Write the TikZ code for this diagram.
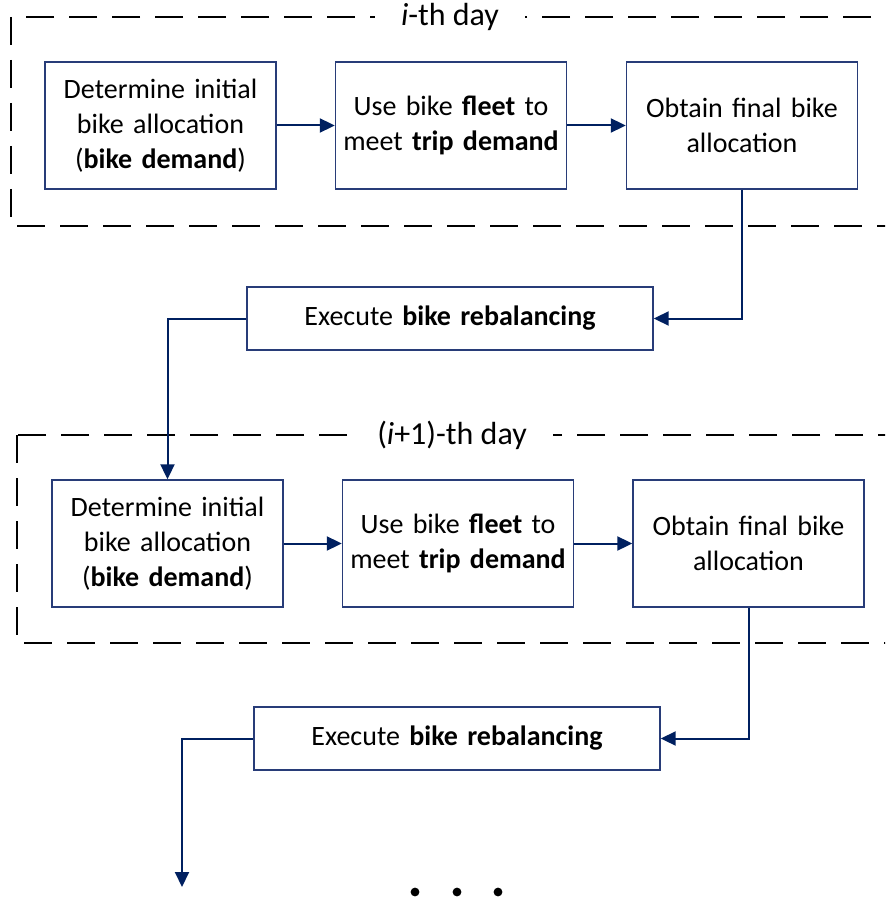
\documentclass[tikz,border=0pt]{standalone}
\usepackage{fontspec}
\setmainfont{Carlito}
\usepackage{xcolor}
\usetikzlibrary{positioning}
\usetikzlibrary{arrows.meta}
\definecolor{navy}{RGB}{0,32,96}
\definecolor{boxline}{RGB}{40,60,120}
\tikzstyle{block} = [rectangle, draw=boxline, line width=0.7pt, fill=white, minimum width=115.5pt, minimum height=63.5pt, text width=110pt, align=center, inner sep=0pt, font=\fontsize{14}{17.5}\selectfont]
\tikzstyle{rebal} = [block, minimum width=203pt, minimum height=31.5pt, text width=200pt]
\tikzstyle{arrow} = [draw=navy, line width=1pt, -{Triangle[length=7.5pt,width=7pt]}]
\tikzstyle{daybox} = [line width=1.1pt, dash pattern=on 14pt off 7.5pt]
\tikzstyle{daylabel} = [fill=white, inner xsep=13pt, inner ysep=2pt, font=\fontsize{16}{19}\selectfont]

\begin{document}
\begin{tikzpicture}[x=0.5pt,y=-0.5pt]
\clip (0,0) rectangle (885,903);
% i-th day
\draw [daybox] (11,17) rectangle (920,226);
\node (day1) [daylabel] at (450,17) {\textit{i}-th day};
\node (det1) [block] at (160.5,125.5) {Determine initial\\bike allocation\\(\textbf{bike demand})};
\node (use1) [block] at (451,125.5) {Use bike \textbf{fleet} to\\meet \textbf{trip demand}};
\node (obt1) [block] at (742,125.5) {Obtain final bike\\allocation};
\node (reb1) [rebal] at (450,318.5) {Execute \textbf{bike rebalancing}};
% (i+1)-th day
\draw [daybox] (17,435) rectangle (920,643);
\node (day2) [daylabel] at (452,435) {(\textit{i}+1)-th day};
\node (det2) [block] at (167.5,543.5) {Determine initial\\bike allocation\\(\textbf{bike demand})};
\node (use2) [block] at (458,543.5) {Use bike \textbf{fleet} to\\meet \textbf{trip demand}};
\node (obt2) [block] at (748.5,543.5) {Obtain final bike\\allocation};
\node (reb2) [rebal] at (457,738.5) {Execute \textbf{bike rebalancing}};
\coordinate (next) at (182,887);
% connectors
\draw [arrow] (det1) -- (use1);
\draw [arrow] (use1) -- (obt1);
\draw [arrow] (obt1.south) |- (reb1.east);
\draw [arrow] (reb1.west) -| (det2.north);
\draw [arrow] (det2) -- (use2);
\draw [arrow] (use2) -- (obt2);
\draw [arrow] (obt2.south) |- (reb2.east);
\draw [arrow] (reb2.west) -| (next);
% dots
\fill (415,892) circle (2.2pt);
\fill (457,892) circle (2.2pt);
\fill (498,892) circle (2.2pt);
\end{tikzpicture}
\end{document}
